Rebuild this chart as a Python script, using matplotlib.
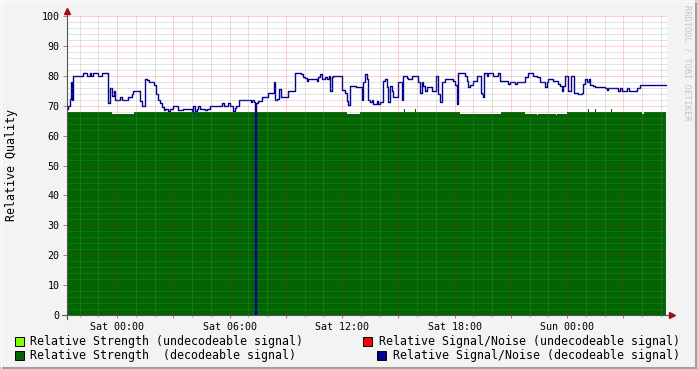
import matplotlib
matplotlib.use("Agg")
import matplotlib.pyplot as plt
from matplotlib.ticker import MultipleLocator, FixedLocator
from matplotlib.lines import Line2D
from matplotlib.patches import Rectangle

# hours relative to Sat 00:00, step changes ("post")
SNR_HOURS = [
    -2.667, -2.596, -2.507, -2.471, -2.418, -2.329, -1.796, -1.618, -1.44, -1.387,
    -1.262, -0.996, -0.818, -0.498, -0.462, -0.373, -0.284, -0.142, -0.089, 0.16,
    0.249, 0.604, 0.782, 0.871, 1.227, 1.351, 1.493, 1.582, 1.707, 1.991,
    2.062, 2.204, 2.293, 2.418, 2.507, 2.56, 2.738, 2.827, 3.004, 3.271,
    3.538, 3.982, 4.071, 4.16, 4.249, 4.338, 4.427, 4.693, 4.782, 4.96,
    5.582, 5.707, 5.938, 6.027, 6.204, 6.293, 6.347, 6.507, 7.129, 7.218,
    7.324, 7.38, 7.43, 7.538, 7.716, 8.07, 8.39, 8.426, 8.515, 8.64,
    8.729, 9.137, 9.493, 9.813, 9.937, 10.026, 10.115, 10.204, 10.649, 10.737,
    10.826, 10.951, 11.093, 11.182, 11.307, 11.377, 11.449, 11.537, 12.017, 12.16,
    12.249, 12.337, 12.426, 12.729, 13.049, 13.137, 13.226, 13.316, 13.405, 13.494,
    13.583, 13.671, 13.849, 13.938, 14.027, 14.205, 14.294, 14.383, 14.471, 14.56,
    14.649, 14.738, 15.005, 15.183, 15.271, 15.449, 15.538, 15.716, 16.071, 16.16,
    16.249, 16.338, 16.427, 16.516, 16.782, 17.014, 17.138, 17.227, 17.316, 17.494,
    17.938, 18.027, 18.116, 18.205, 18.56, 18.649, 18.738, 18.827, 19.004, 19.182,
    19.396, 19.484, 19.538, 19.591, 19.716, 19.804, 20.071, 20.338, 20.427, 20.871,
    20.96, 21.227, 21.316, 21.76, 21.938, 22.204, 22.382, 22.56, 22.827, 22.916,
    23.004, 23.271, 23.538, 23.627, 23.716, 23.804, 23.893, 24.071, 24.213, 24.391,
    24.604, 24.782, 24.871, 24.96, 25.049, 25.173, 25.226, 25.404, 25.493, 26.027,
    26.115, 26.204, 26.649, 26.738, 26.827, 26.916, 27.182, 27.307, 27.716, 27.893,
    29.28,
]
SNR_VALUES = [
    69.0, 70.0, 72.2, 78.0, 72.0, 80.0, 81.0, 80.0, 81.0, 80.0,
    81.0, 80.0, 81.0, 80.0, 71.0, 76.0, 73.3, 75.0, 72.0, 72.8,
    72.0, 72.8, 74.0, 74.8, 71.7, 70.0, 78.9, 78.5, 78.0, 77.0,
    74.0, 72.0, 70.8, 69.4, 68.5, 68.9, 68.2, 68.9, 70.0, 68.6,
    68.9, 67.8, 70.0, 68.3, 68.9, 70.0, 68.9, 68.6, 68.9, 70.0,
    70.9, 70.0, 70.9, 70.0, 68.3, 69.1, 70.0, 71.9, 71.1, 71.9,
    71.1, 0.0, 70.8, 71.7, 73.0, 74.4, 77.8, 71.9, 72.2, 75.6,
    73.0, 74.8, 80.8, 80.6, 79.7, 79.2, 78.1, 78.9, 78.1, 79.7,
    80.6, 78.9, 79.7, 78.9, 80.0, 75.0, 79.7, 80.0, 75.2, 74.1,
    71.7, 70.2, 76.7, 76.1, 71.9, 77.8, 80.6, 78.9, 71.9, 71.1,
    71.9, 70.6, 71.7, 70.6, 71.1, 78.3, 78.9, 76.1, 71.1, 76.7,
    75.0, 73.0, 77.8, 71.9, 80.0, 79.4, 78.9, 80.0, 77.8, 74.2,
    77.8, 76.7, 75.0, 76.1, 75.0, 80.0, 73.9, 71.1, 77.8, 78.9,
    78.1, 77.0, 70.6, 80.8, 80.0, 78.3, 76.3, 77.0, 78.3, 80.0,
    74.4, 73.9, 73.0, 80.8, 80.0, 80.8, 80.0, 80.8, 78.1, 77.4,
    77.8, 77.4, 77.8, 79.7, 80.8, 80.0, 79.7, 77.8, 76.3, 77.8,
    78.9, 78.1, 77.4, 76.7, 75.0, 76.7, 80.0, 75.0, 80.0, 74.4,
    73.9, 74.4, 77.2, 78.9, 77.8, 78.9, 77.0, 76.7, 76.1, 75.9,
    75.2, 75.9, 75.9, 75.0, 75.9, 75.0, 75.9, 75.0, 75.9, 77.0,
    77.0,
]

STR_HOURS = [-2.667, -0.267, 0.907, 12.27, 12.96, 15.31, 15.36, 15.89, 15.95, 18.29,
             20.48, 21.76, 22.4, 22.45, 23.4, 23.45, 24.0, 25.12, 25.17, 25.49,
             25.54, 26.35, 26.4, 28.0, 28.1, 29.28]
STR_VALUES = [68.0, 67.3, 68.0, 67.3, 68.0, 69.0, 68.0, 69.0, 68.0, 67.2,
              68.0, 67.2, 66.8, 67.2, 66.8, 67.2, 68.0, 69.0, 68.0, 69.0,
              68.0, 69.0, 68.0, 67.2, 68.0, 68.0]

X_LABEL_HOURS = [0, 6, 12, 18, 24]
X_LABELS = ["Sat 00:00", "Sat 06:00", "Sat 12:00", "Sat 18:00", "Sun 00:00"]
Y_TICKS = [0, 10, 20, 30, 40, 50, 60, 70, 80, 90, 100]

LEGEND = [
    ("Relative Strength (undecodeable signal)", "#80FF00"),
    ("Relative Strength  (decodeable signal)", "#006600"),
    ("Relative Signal/Noise (undecodeable signal)", "#FF0000"),
    ("Relative Signal/Noise (decodeable signal)", "#000090"),
]

BG = "#F3F3F3"
GREEN = "#006600"
BLUE = "#000090"
AXIS = "#555555"
ARROW = "#A01010"
MONO = "DejaVu Sans Mono"

plt.rcParams["font.family"] = MONO

W, H = 697, 369
fig = plt.figure(figsize=(W / 100, H / 100), dpi=100, facecolor=BG)
# plot area: x 67..667, y 16..315 (pixels)
ax = fig.add_axes([67 / W, (H - 315) / H, 600 / W, 299 / H])
ax.set_facecolor("white")

ax.fill_between(STR_HOURS, STR_VALUES, 0, step="post", color=GREEN, lw=0, zorder=1)
ax.step(SNR_HOURS, SNR_VALUES, where="post", color=BLUE, lw=1.0, zorder=2)

ax.set_xlim(-2.667, 29.333)
ax.set_ylim(0, 100)

ax.xaxis.set_major_locator(MultipleLocator(3))
ax.xaxis.set_minor_locator(MultipleLocator(1))
ax.xaxis.set_major_formatter(
    plt.FuncFormatter(lambda v, p: X_LABELS[X_LABEL_HOURS.index(round(v))]
                      if round(v) in X_LABEL_HOURS and abs(v - round(v)) < 1e-6 else ""))
ax.yaxis.set_major_locator(FixedLocator(Y_TICKS))
ax.yaxis.set_minor_locator(MultipleLocator(2))

# rrdtool grids: semi-transparent 1px dotted lines over the data
dots = (0, (1, 1))
ax.grid(True, which="major", color="#FF0000", alpha=0.35, lw=0.72, linestyle=dots)
ax.grid(True, which="minor", color="#808080", alpha=0.45, lw=0.72, linestyle=dots)
ax.set_axisbelow(False)

ax.tick_params(axis="x", which="major", length=2.5, width=0.72, color="#E06060",
               pad=2.5, labelsize=7.2, labelcolor="black")
ax.tick_params(axis="x", which="minor", length=1.5, width=0.72, color="#B0B0B0")
ax.tick_params(axis="y", which="major", length=3, width=0.72, color="#909090",
               pad=2.5, labelsize=7.2, labelcolor="black")
ax.tick_params(axis="y", which="minor", length=0)

for s in ax.spines.values():
    s.set_visible(False)

# axis lines with arrows, as rrdtool draws them
ax.plot([-5 / 600, 1.006], [0, 0], color=AXIS, lw=0.8, transform=ax.transAxes,
        clip_on=False, zorder=5)
ax.plot([0, 0], [-4 / 299, 1.012], color=AXIS, lw=0.8, transform=ax.transAxes,
        clip_on=False, zorder=5)
ax.plot([1.009], [0], marker=">", ms=4, color=ARROW, mec=ARROW,
        transform=ax.transAxes, clip_on=False, zorder=6)
ax.plot([0], [1.017], marker="^", ms=4, color=ARROW, mec=ARROW,
        transform=ax.transAxes, clip_on=False, zorder=6)

fig.text(12 / W, 1 - 165 / H, "Relative Quality", rotation=90, ha="center",
         va="center", fontsize=8.4)
fig.text(687 / W, 1 - 5 / H, "RRDTOOL / TOBI OETIKER", rotation=-90, ha="center",
         va="top", fontsize=6.2, color="#C4C4C4")

# legend, two columns; right column right-justified as rrdtool does
rows = [(30, 341, "left"), (30, 355, "left"), (680, 341, "right"), (680, 355, "right")]
for (label, col), (tx, ty, ha) in zip(LEGEND, rows):
    start = tx if ha == "left" else tx - len(label) * 7.02
    fig.text(tx / W, 1 - ty / H, label, ha=ha, va="center", fontsize=8.4)
    fig.add_artist(Rectangle(((start - 15) / W, 1 - (ty + 4.5) / H), 9 / W, 9 / H,
                             transform=fig.transFigure, facecolor=col,
                             edgecolor="black", lw=0.7))

# frame shading
fig.add_artist(Line2D([0, 1], [1.5 / H, 1.5 / H], transform=fig.transFigure,
                      color="#A0A0A0", lw=1.5))
fig.add_artist(Line2D([1 - 1.5 / W, 1 - 1.5 / W], [0, 1], transform=fig.transFigure,
                      color="#A0A0A0", lw=1.5))
fig.add_artist(Line2D([0, 1], [1 - 0.5 / H, 1 - 0.5 / H], transform=fig.transFigure,
                      color="#FCFCFC", lw=1))
fig.add_artist(Line2D([0.5 / W, 0.5 / W], [0, 1], transform=fig.transFigure,
                      color="#FCFCFC", lw=1))

fig.savefig("out.png", dpi=100, facecolor=BG)
